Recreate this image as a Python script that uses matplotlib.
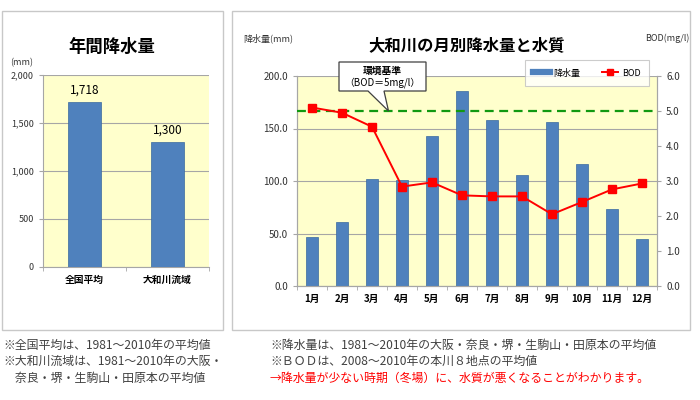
import numpy as np
import matplotlib.pyplot as plt
import matplotlib.patches as mpatches
import matplotlib.lines as mlines
from matplotlib.ticker import FuncFormatter, MultipleLocator

plt.rcParams['font.family'] = ['Noto Sans CJK JP', 'DejaVu Sans']

# Data
annual_labels = ['全国平均', '大和川流域']
annual_rain = [1718, 1300]

months = ['1月', '2月', '3月', '4月', '5月', '6月', '7月', '8月', '9月', '10月', '11月', '12月']
monthly_rain = [47, 61, 102, 101, 143, 186, 158, 106, 156, 116, 73, 45]
monthly_bod = [5.1, 4.95, 4.55, 2.84, 2.96, 2.59, 2.56, 2.56, 2.05, 2.4, 2.76, 2.93]
bod_standard = 5.0

notes_left = ['※全国平均は、1981～2010年の平均値',
              '※大和川流域は、1981～2010年の大阪・',
              '　奈良・堺・生駒山・田原本の平均値']
notes_right = ['※降水量は、1981～2010年の大阪・奈良・堺・生駒山・田原本の平均値',
               '※ＢＯＤは、2008～2010年の本川８地点の平均値',
               '→降水量が少ない時期（冬場）に、水質が悪くなることがわかります。']

W, H = 700, 400
BLUE = '#4F81BD'
YELLOW = '#FFFFCC'
GRID = '#A6A6A6'
TXT = '#333333'


def px(x, y):
    return x / W, 1 - y / H


def box(x0, y0, x1, y1):
    return [x0 / W, 1 - y1 / H, (x1 - x0) / W, (y1 - y0) / H]


fig = plt.figure(figsize=(7, 4), dpi=100)
fig.patch.set_facecolor('white')

# panel frames
for x0, x1 in [(2, 223), (232, 690)]:
    fig.patches.append(mpatches.Rectangle(px(x0, 330), (x1 - x0) / W, 319 / H,
                                          transform=fig.transFigure, fill=False,
                                          edgecolor='#C8C8C8', lw=1))

# ---- left chart: annual rainfall
ax = fig.add_axes(box(43, 75, 209, 267))
ax.set_facecolor(YELLOW)
x = np.arange(len(annual_labels))
ax.bar(x, annual_rain, width=0.39, color=BLUE, edgecolor='#3A6A9E', lw=0.5, zorder=3)
for xi, v in zip(x, annual_rain):
    ax.text(xi, v + 60, f'{v:,}', ha='center', va='bottom', fontsize=8.5, color='black')
ax.set_xlim(-0.5, 1.5)
ax.set_ylim(0, 2000)
ax.yaxis.set_major_locator(MultipleLocator(500))
ax.yaxis.set_major_formatter(FuncFormatter(lambda v, p: f'{int(v):,}'))
ax.grid(axis='y', color=GRID, lw=0.8, zorder=0)
ax.set_xticks(x)
ax.set_xticklabels(annual_labels, fontsize=7, color='black', fontweight='bold')
ax.set_xticks([-0.5, 0.5, 1.5], minor=True)
ax.tick_params(axis='x', which='major', length=0, pad=6)
ax.tick_params(axis='x', which='minor', length=3, color=GRID)
ax.tick_params(axis='y', labelsize=6.5, labelcolor=TXT, length=3, color=GRID)
for s in ['top', 'right']:
    ax.spines[s].set_visible(False)
for s in ['left', 'bottom']:
    ax.spines[s].set_color(GRID)
fig.text(*px(112, 47), '年間降水量', ha='center', va='center', fontsize=12.5, fontweight='bold')
fig.text(*px(22, 63), '(mm)', ha='center', va='center', fontsize=6.5, color=TXT)

# ---- right chart: monthly rainfall and BOD
ax1 = fig.add_axes(box(297, 76, 657, 286))
ax1.set_facecolor(YELLOW)
m = np.arange(len(months))
ax1.bar(m, monthly_rain, width=0.4, color=BLUE, edgecolor='#3A6A9E', lw=0.5, zorder=3)
ax1.set_xlim(-0.5, 11.5)
ax1.set_ylim(0, 200)
ax1.yaxis.set_major_locator(MultipleLocator(50))
ax1.yaxis.set_major_formatter(FuncFormatter(lambda v, p: f'{v:.1f}'))
ax1.grid(axis='y', color=GRID, lw=0.8, zorder=0)
ax1.set_xticks(m)
ax1.set_xticklabels(months, fontsize=7, color='black', fontweight='bold')
ax1.set_xticks(np.arange(-0.5, 12, 1), minor=True)
ax1.tick_params(axis='x', which='major', length=0, pad=6)
ax1.tick_params(axis='x', which='minor', length=3, color=GRID)
ax1.tick_params(axis='y', labelsize=7, labelcolor=TXT, length=3, color=GRID)
ax1.spines['top'].set_visible(False)
for s in ['left', 'bottom', 'right']:
    ax1.spines[s].set_color(GRID)

ax2 = ax1.twinx()
ax2.set_ylim(0, 6)
ax2.yaxis.set_major_locator(MultipleLocator(1))
ax2.yaxis.set_major_formatter(FuncFormatter(lambda v, p: f'{v:.1f}'))
ax2.tick_params(axis='y', labelsize=7, labelcolor=TXT, length=3, color=GRID)
ax2.spines['top'].set_visible(False)
for s in ['left', 'bottom', 'right']:
    ax2.spines[s].set_color(GRID)
ax2.axhline(bod_standard, color='#119911', lw=1.6, ls=(0, (4, 2.5)), zorder=4)
ax2.plot(m, monthly_bod, color='#FF0000', lw=1.4, marker='s', markersize=5.5, zorder=5)

fig.text(*px(467, 45), '大和川の月別降水量と水質', ha='center', va='center', fontsize=11.8, fontweight='bold')
fig.text(*px(243, 38), '降水量(mm)', ha='left', va='center', fontsize=6.5, color=TXT)
fig.text(*px(690, 38), 'BOD(mg/l)', ha='right', va='center', fontsize=6.5, color=TXT)

# callout box for the standard
tip = ax2.transData.transform((2.55, bod_standard))
tip = fig.transFigure.inverted().transform(tip)
bx0, by0, bx1, by1 = 339, 62, 426, 91
pts = [px(bx0, by0), px(bx1, by0), px(bx1, by1), px(384, by1), tuple(tip), px(368, by1), px(bx0, by1)]
fig.patches.append(mpatches.Polygon(pts, closed=True, transform=fig.transFigure,
                                    facecolor='white', edgecolor='#404040', lw=0.9, zorder=6))
fig.text(*px((bx0 + bx1) / 2, 70.5), '環境基準', ha='center', va='center',
         fontsize=7, fontweight='bold', zorder=7)
fig.text(*px((bx0 + bx1) / 2, 82.5), '（BOD＝5mg/l）', ha='center', va='center',
         fontsize=7, zorder=7)

# legend
handles = [mlines.Line2D([], [], color=BLUE, lw=4.5, label='降水量'),
           mlines.Line2D([], [], color='#FF0000', lw=1.4, marker='s', markersize=4.5, label='BOD')]
leg = fig.legend(handles=handles, loc='center', bbox_to_anchor=px(587, 73), ncol=2,
                 fontsize=6.5, frameon=True, fancybox=False, handlelength=1.8,
                 columnspacing=2.4, borderpad=0.9, handletextpad=0.4,
                 borderaxespad=0)
leg.get_frame().set_edgecolor('#C0C0C0')
leg.get_frame().set_linewidth(0.8)

# footnotes
for i, t in enumerate(notes_left):
    fig.text(*px(3, 345 + i * 16.7), t, ha='left', va='center', fontsize=8.6, color='#404040')
for i, t in enumerate(notes_right):
    fig.text(*px(270, 345 + i * 16.7), t, ha='left', va='center', fontsize=8.6,
             color='#FF0000' if i == 2 else '#404040')

fig.savefig('out.png', dpi=100)
